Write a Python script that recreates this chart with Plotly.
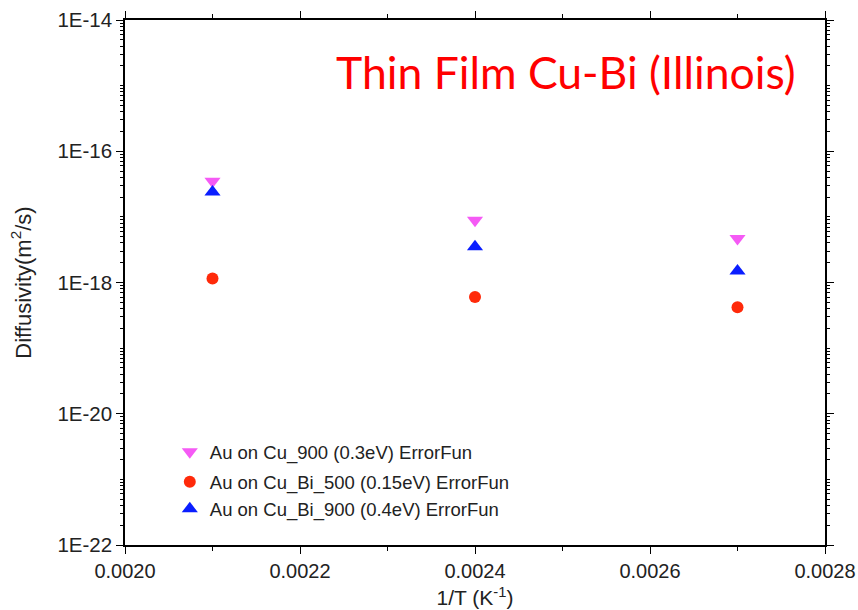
import plotly.graph_objects as go

inv_T = [0.0021, 0.0024, 0.0027]
cu_900 = [3.5e-17, 8.9e-18, 4.7e-18]
cu_bi_500 = [1.15e-18, 6.0e-19, 4.2e-19]
cu_bi_900 = [2.4e-17, 3.5e-18, 1.5e-18]

names = ["Au on Cu_900 (0.3eV) ErrorFun",
         "Au on Cu_Bi_500 (0.15eV) ErrorFun",
         "Au on Cu_Bi_900 (0.4eV) ErrorFun"]

y_major_vals = [1e-22, 1e-20, 1e-18, 1e-16, 1e-14]
y_major_text = ["1E-22", "1E-20", "1E-18", "1E-16", "1E-14"]
y_decade_vals = [1e-21, 1e-19, 1e-17, 1e-15]
x_tick_vals = [0.0020, 0.0022, 0.0024, 0.0026, 0.0028]
x_tick_text = ["0.0020", "0.0022", "0.0024", "0.0026", "0.0028"]
x_minor_vals = [0.0021, 0.0023, 0.0025, 0.0027]

y_minor_vals = [m * 10.0 ** e for e in range(-22, -14) for m in range(2, 10)] + y_decade_vals

fig = go.Figure()
fig.add_trace(go.Scatter(x=inv_T, y=cu_900, mode="markers", name=names[0],
                         legendgroup="a",
                         marker=dict(symbol="triangle-down", size=14, color="#F55AF5")))
fig.add_trace(go.Scatter(x=inv_T, y=cu_bi_500, mode="markers", name=names[1],
                         legendgroup="b",
                         marker=dict(symbol="circle", size=12, color="#FF2A0A")))
fig.add_trace(go.Scatter(x=inv_T, y=cu_bi_900, mode="markers", name=names[2],
                         legendgroup="b",
                         marker=dict(symbol="triangle-up", size=14, color="#0A1EFF")))

axis_font = dict(family="Liberation Sans, Arial", size=20, color="#222")

fig.update_layout(
    width=858, height=610,
    margin=dict(l=125, r=33, t=20, b=65, autoexpand=False),
    paper_bgcolor="white", plot_bgcolor="white",
    showlegend=True,
    legend=dict(x=0.064, y=0.213, xanchor="left", yanchor="top",
                bgcolor="rgba(0,0,0,0)", font=dict(family="Liberation Sans, Arial", size=18.5, color="#222"),
                traceorder="grouped", tracegroupgap=3, itemwidth=30),
    xaxis=dict(range=[0.0020, 0.0028], showline=True, linecolor="black", linewidth=1.5,
               mirror="ticks", ticks="outside", ticklen=7, tickwidth=1.2, tickcolor="black",
               tickmode="array", tickvals=x_tick_vals, ticktext=x_tick_text,
               minor=dict(tickmode="array", tickvals=x_minor_vals, ticks="outside",
                          ticklen=4, tickcolor="black", tickwidth=1.2, showgrid=False),
               showgrid=False, zeroline=False, tickfont=axis_font, automargin=False,
               title=dict(text="1/T (K<sup>-1</sup>)", font=dict(family="Liberation Sans, Arial", size=21, color="#222"), standoff=10)),
    yaxis=dict(type="log", range=[-22, -14], showline=True, linecolor="black", linewidth=1.5,
               mirror="ticks", ticks="outside", ticklen=7, tickwidth=1.2, tickcolor="black",
               tickmode="array", tickvals=y_major_vals, ticktext=y_major_text,
               minor=dict(tickmode="array", tickvals=y_minor_vals, ticks="outside",
                          ticklen=3, tickcolor="black", tickwidth=1, showgrid=False),
               showgrid=False, zeroline=False, tickfont=dict(family="Liberation Sans, Arial", size=20.5, color="#222"),
               automargin=False,
               title=dict(text="Diffusivity(m<sup>2</sup>/s)", font=dict(family="Liberation Sans, Arial", size=22, color="#222"), standoff=20)),
    annotations=[dict(text="Thin Film Cu-Bi (Illinois)", xref="paper", x=(566 - 125) / 700,
                      xanchor="center", y=0.902, yref="paper", yanchor="middle",
                      showarrow=False, font=dict(family="Lato", size=44.5, color="#FF0000"))],
)

fig.write_html("out.html")
